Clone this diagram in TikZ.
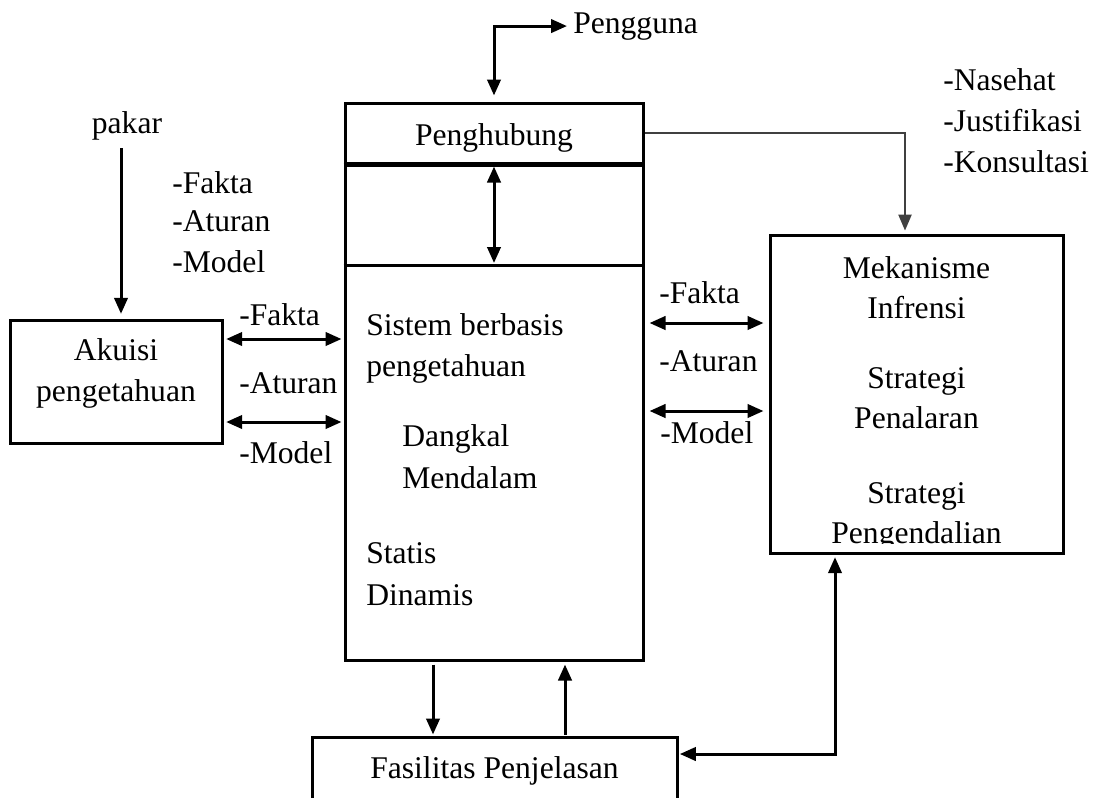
\documentclass[tikz,border=0pt]{standalone}
\usepackage{fontspec}
\setmainfont{Liberation Serif}
\usetikzlibrary{arrows.meta,positioning}

\tikzset{
  kotak/.style={draw, line width=2.25pt, inner sep=0pt},
  teks/.style={font=\fontsize{23.7pt}{30pt}\selectfont, inner sep=0pt},
  panah/.style={line width=2.25pt, -{Triangle[length=12pt,width=10pt]}},
  panahdua/.style={line width=2.25pt, {Triangle[length=12pt,width=10pt]}-{Triangle[length=12pt,width=10pt]}},
}

\begin{document}
\begin{tikzpicture}[x=0.75pt,y=-0.75pt]
	%%%%% START %%%%%
	\useasboundingbox (0,0) rectangle (1095,797);
	\clip (0,0) rectangle (1095,797);
	
	% kotak
	\node[kotak, minimum width=223.5pt, minimum height=45pt] (penghubung) at (494,133) {};
	\node[kotak, minimum width=223.5pt, minimum height=372.75pt] (sistem) at (494,411.5) {};
	\draw[line width=3pt] (penghubung.south west) -- (penghubung.south east);
	\coordinate (batas) at (494,265);
	\draw[line width=2.25pt] (sistem.west |- batas) -- (sistem.east |- batas);
	
	\node[kotak, minimum width=159pt, minimum height=92.25pt] (akuisi) at (116,381.5) {};
	\node[kotak, minimum width=219.75pt, minimum height=238.5pt] (mekanisme) at (916.5,394) {};
	\node[kotak, minimum width=273.75pt, minimum height=60pt] (fasilitas) at (494.5,777) {};
	
	% teks
	\node[teks, anchor=base] (tpenghubung) at (494,145) {Penghubung};
	\node[teks, anchor=base west] (pengguna) at (573,33) {Pengguna};
	\node[teks, anchor=base] (pakar) at (127,133) {pakar};
	
	\node[teks, anchor=base west] (fakta) at (172,193) {-Fakta};
	\node[teks, anchor=base west] (aturan) at (172,231) {-Aturan};
	\node[teks, anchor=base west] (model) at (172,272) {-Model};
	
	\node[teks, anchor=base west] (nasehat) at (943,90) {-Nasehat};
	\node[teks, anchor=base west] (justifikasi) at (943,131) {-Justifikasi};
	\node[teks, anchor=base west] (konsultasi) at (943,172) {-Konsultasi};
	
	\node[teks, anchor=base] (akuisi1) at (116,360) {Akuisi};
	\node[teks, anchor=base] (akuisi2) at (116,401) {pengetahuan};
	
	\node[teks, anchor=base west] (lfakta) at (239,325) {-Fakta};
	\node[teks, anchor=base west] (laturan) at (239,393) {-Aturan};
	\node[teks, anchor=base west] (lmodel) at (239,463) {-Model};
	
	\node[teks, anchor=base west] (rfakta) at (659,303) {-Fakta};
	\node[teks, anchor=base west] (raturan) at (659,371) {-Aturan};
	\node[teks, anchor=base west] (rmodel) at (660,443) {-Model};
	
	\node[teks, anchor=base west] (sistem1) at (366,335) {Sistem berbasis};
	\node[teks, anchor=base west] (sistem2) at (366,376) {pengetahuan};
	\node[teks, anchor=base west] (dangkal) at (402,446) {Dangkal};
	\node[teks, anchor=base west] (mendalam) at (402,488) {Mendalam};
	\node[teks, anchor=base west] (statis) at (366,563) {Statis};
	\node[teks, anchor=base west] (dinamis) at (366,605) {Dinamis};
	
	\node[teks, anchor=base] (mek1) at (916.5,278) {Mekanisme};
	\node[teks, anchor=base] (mek2) at (916.5,318) {Infrensi};
	\node[teks, anchor=base] (mek3) at (916.5,388) {Strategi};
	\node[teks, anchor=base] (mek4) at (916.5,428) {Penalaran};
	\node[teks, anchor=base] (mek5) at (916.5,503) {Strategi};
	\begin{scope}
		\clip (770,235) rectangle (1063,543);
		\node[teks, anchor=base] (mek6) at (916.5,543) {Pengendalian};
	\end{scope}
	
	\node[teks, anchor=base] (tfasilitas) at (494.5,778) {Fasilitas Penjelasan};
	
	% panah
	\draw[panahdua, shorten <=4.5pt, shorten >=4.5pt] (pengguna.west) -| (penghubung.north);
	\draw[panah, shorten <=6pt, shorten >=3.5pt] (121,0 |- pakar.south) -- (121,0 |- akuisi.north);
	\draw[panahdua, shorten <=1.5pt, shorten >=1.5pt] (penghubung.south) -- (batas);
	
	\draw[panahdua, shorten <=2pt, shorten >=1.5pt] (akuisi.east |- 0,339) -- (sistem.west |- 0,339);
	\draw[panahdua, shorten <=2pt, shorten >=1.5pt] (akuisi.east |- 0,422) -- (sistem.west |- 0,422);
	
	\draw[panahdua, shorten <=3.75pt, shorten >=3.75pt] (sistem.east |- 0,323) -- (mekanisme.west |- 0,323);
	\draw[panahdua, shorten <=3.75pt, shorten >=3.75pt] (sistem.east |- 0,411) -- (mekanisme.west |- 0,411);
	
	\draw[line width=1pt, black!75, -{Triangle[length=12pt,width=10pt]}, shorten >=2.25pt] (penghubung.east) -| (905,0 |- mekanisme.north);
	
	\draw[panah, shorten <=2.25pt, shorten >=0.75pt] (433,0 |- sistem.south) -- (433,0 |- fasilitas.north);
	\draw[panah, shorten <=0.75pt, shorten >=2.25pt] (565,0 |- fasilitas.north) -- (565,0 |- sistem.south);
	\draw[panahdua, shorten <=1pt, shorten >=2pt] (fasilitas.east |- 0,754) -| (835,0 |- mekanisme.south);
	
	%%%%% END %%%%%
\end{tikzpicture}
\end{document}
